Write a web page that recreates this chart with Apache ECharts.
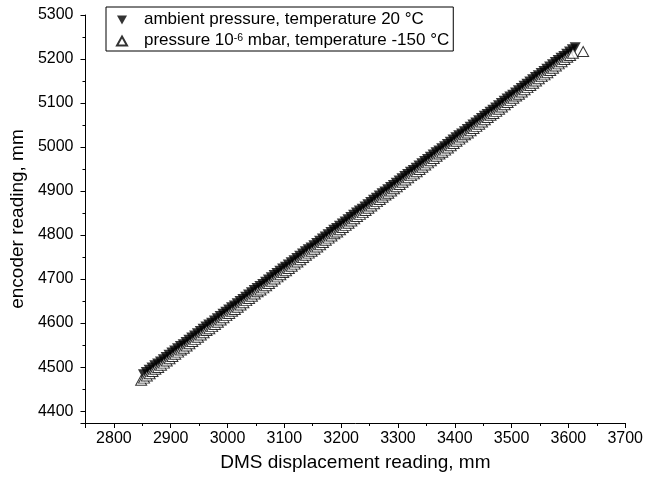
<!DOCTYPE html>
<html>
<head>
<meta charset="utf-8">
<script src="https://cdn.jsdelivr.net/npm/echarts@6/dist/echarts.min.js"></script>
<style>
html,body{margin:0;padding:0;background:#fff;}
#chart{width:646px;height:486px;}
</style>
</head>
<body>
<div id="chart"></div>
<script>
// ---- data ----
const seriesNames = ['ambient pressure, temperature 20 °C', 'pressure 10-6 mbar, temperature -150 °C'];

const ambientX = [
2852,2857,2862,2867,2872,2877,2882,2887,2892,2897,
2902,2907,2912,2917,2922,2927,2932,2937,2942,2947,
2952,2957,2962,2967,2972,2977,2982,2987,2992,2997,
3002,3007,3012,3017,3022,3027,3032,3037,3042,3047,
3052,3057,3062,3067,3072,3077,3082,3087,3092,3097,
3102,3107,3112,3117,3122,3127,3132,3137,3142,3147,
3152,3157,3162,3167,3172,3177,3182,3187,3192,3197,
3202,3207,3212,3217,3222,3227,3232,3237,3242,3247,
3252,3257,3262,3267,3272,3277,3282,3287,3292,3297,
3302,3307,3312,3317,3322,3327,3332,3337,3342,3347,
3352,3357,3362,3367,3372,3377,3382,3387,3392,3397,
3402,3407,3412,3417,3422,3427,3432,3437,3442,3447,
3452,3457,3462,3467,3472,3477,3482,3487,3492,3497,
3502,3507,3512,3517,3522,3527,3532,3537,3542,3547,
3552,3557,3562,3567,3572,3577,3582,3587,3592,3597,
3602,3607,3612
];
const ambientY = [
4484,4489,4494,4499,4504,4508,4513,4518,4523,4528,
4533,4538,4543,4548,4552,4557,4562,4567,4572,4577,
4582,4587,4592,4597,4601,4606,4611,4616,4621,4626,
4631,4636,4640,4645,4650,4655,4660,4665,4670,4675,
4680,4684,4689,4694,4699,4704,4709,4714,4719,4724,
4728,4733,4738,4743,4748,4753,4758,4763,4768,4772,
4777,4782,4787,4792,4797,4802,4807,4812,4816,4821,
4826,4831,4836,4841,4846,4851,4856,4860,4865,4870,
4875,4880,4885,4890,4895,4899,4904,4909,4914,4919,
4924,4929,4934,4939,4944,4948,4953,4958,4963,4968,
4973,4978,4983,4988,4992,4997,5002,5007,5012,5017,
5022,5027,5031,5036,5041,5046,5051,5056,5061,5066,
5071,5075,5080,5085,5090,5095,5100,5105,5110,5115,
5119,5124,5129,5134,5139,5144,5149,5154,5159,5163,
5168,5173,5178,5183,5188,5193,5198,5203,5207,5212,
5217,5222,5227
];

const vacuumX = [
2848,2853,2858,2863,2868,2873,2878,2883,2888,2893,
2898,2903,2908,2913,2918,2923,2928,2933,2938,2943,
2948,2953,2958,2963,2968,2973,2978,2983,2988,2993,
2998,3003,3008,3013,3018,3023,3028,3033,3038,3043,
3048,3053,3058,3063,3068,3073,3078,3083,3088,3093,
3098,3103,3108,3113,3118,3123,3128,3133,3138,3143,
3148,3153,3158,3163,3168,3173,3178,3183,3188,3193,
3198,3203,3208,3213,3218,3223,3228,3233,3238,3243,
3248,3253,3258,3263,3268,3273,3278,3283,3288,3293,
3298,3303,3308,3313,3318,3323,3328,3333,3338,3343,
3348,3353,3358,3363,3368,3373,3378,3383,3388,3393,
3398,3403,3408,3413,3418,3423,3428,3433,3438,3443,
3448,3453,3458,3463,3468,3473,3478,3483,3488,3493,
3498,3503,3508,3513,3518,3523,3528,3533,3538,3543,
3548,3553,3558,3563,3568,3573,3578,3583,3588,3593,
3598,3603,3608,3626
];
const vacuumY = [
4470,4475,4480,4485,4490,4495,4499,4504,4509,4514,
4519,4524,4529,4534,4539,4543,4548,4553,4558,4563,
4568,4573,4578,4583,4587,4592,4597,4602,4607,4612,
4617,4622,4627,4631,4636,4641,4646,4651,4656,4661,
4666,4671,4675,4680,4685,4690,4695,4700,4705,4710,
4715,4719,4724,4729,4734,4739,4744,4749,4754,4759,
4763,4768,4773,4778,4783,4788,4793,4798,4803,4807,
4812,4817,4822,4827,4832,4837,4842,4847,4851,4856,
4861,4866,4871,4876,4881,4886,4891,4895,4900,4905,
4910,4915,4920,4925,4930,4935,4939,4944,4949,4954,
4959,4964,4969,4974,4979,4984,4988,4993,4998,5003,
5008,5013,5018,5023,5028,5032,5037,5042,5047,5052,
5057,5062,5067,5072,5076,5081,5086,5091,5096,5101,
5106,5111,5116,5120,5125,5130,5135,5140,5145,5150,
5155,5160,5164,5169,5174,5179,5184,5189,5194,5199,
5204,5208,5213,5217
];

const xMin = 2750, xMax = 3700;
const yMin = 4373, yMax = 5300;
const xTitle = 'DMS displacement reading, mm';
const yTitle = 'encoder reading, mm';

// ---- chart ----
const FONT = '"Liberation Sans", Arial, sans-serif';
const ambientData = ambientX.map((x, i) => [x, ambientY[i]]);
const vacuumData = vacuumX.map((x, i) => [x, vacuumY[i]]);
const plain = v => String(v);

const chart = echarts.init(document.getElementById('chart'), null, {renderer: 'canvas'});
chart.setOption({
  animation: false,
  backgroundColor: '#fff',
  grid: {left: 84, right: 16, top: 15, bottom: 63, containLabel: false},
  legend: {
    orient: 'vertical',
    left: 106, top: 7,
    padding: [4, 4, 2, 10],
    itemGap: 4,
    itemWidth: 10, itemHeight: 9,
    borderColor: '#000', borderWidth: 1,
    data: seriesNames,
    formatter: function (name) {
      if (name === seriesNames[1]) {
        return '{a|pressure 10}{s|-6}{t| mbar, temperature -150 °C}';
      }
      return '{a|' + name + '}';
    },
    textStyle: {
      color: '#000', fontFamily: FONT, fontSize: 17,
      rich: {
        a: {fontSize: 17, fontFamily: FONT, color: '#000', lineHeight: 16, verticalAlign: 'bottom', padding: [0, 0, 0, 12]},
        t: {fontSize: 17, fontFamily: FONT, color: '#000', lineHeight: 16, verticalAlign: 'bottom'},
        s: {fontSize: 10.5, fontFamily: FONT, color: '#000', lineHeight: 10, verticalAlign: 'top'}
      }
    }
  },
  xAxis: {
    type: 'value', min: xMin, max: xMax, splitNumber: 10,
    name: xTitle, nameLocation: 'middle', nameGap: 30,
    nameTextStyle: {color: '#000', fontFamily: FONT, fontSize: 19},
    axisLine: {show: true, onZero: false, lineStyle: {color: '#000', width: 1}},
    axisTick: {show: true, inside: false, length: 5, lineStyle: {color: '#000'}},
    minorTick: {show: true, splitNumber: 2, length: 3, lineStyle: {color: '#000'}},
    axisLabel: {color: '#000', fontFamily: FONT, fontSize: 16, margin: 8, showMinLabel: false, formatter: plain},
    splitLine: {show: false}, minorSplitLine: {show: false}
  },
  yAxis: {
    type: 'value', min: yMin, max: yMax, splitNumber: 10,
    name: yTitle, nameLocation: 'middle', nameGap: 55,
    nameTextStyle: {color: '#000', fontFamily: FONT, fontSize: 19},
    axisLine: {show: true, onZero: false, lineStyle: {color: '#000', width: 1}},
    axisTick: {show: true, inside: false, length: 5, lineStyle: {color: '#000'}},
    minorTick: {show: true, splitNumber: 2, length: 3, lineStyle: {color: '#000'}},
    axisLabel: {color: '#000', fontFamily: FONT, fontSize: 16, margin: 12, showMinLabel: false, formatter: plain},
    splitLine: {show: false}, minorSplitLine: {show: false}
  },
  series: [
    {
      name: seriesNames[0], type: 'scatter', data: ambientData,
      symbol: 'path://M0,0L10,0L5,9Z', symbolSize: [11, 10],
      itemStyle: {color: '#000'}
    },
    {
      name: seriesNames[1], type: 'scatter', data: vacuumData,
      symbol: 'triangle', symbolSize: [11, 10],
      itemStyle: {color: '#fff', borderColor: '#000', borderWidth: 1}
    }
  ]
});
</script>
</body>
</html>
